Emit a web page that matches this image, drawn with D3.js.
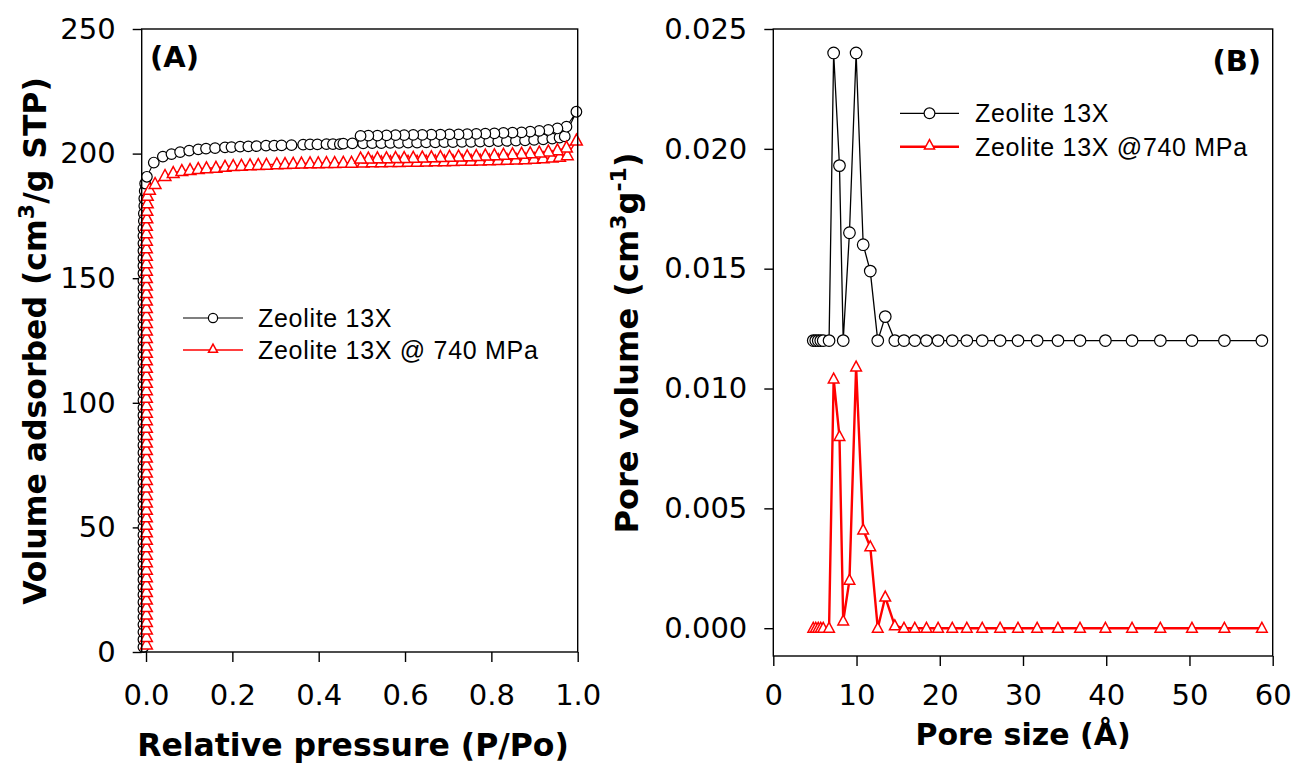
<!DOCTYPE html>
<html>
<head>
<meta charset="utf-8">
<script src="https://cdn.jsdelivr.net/npm/d3@7"></script>
<style>
  html, body { margin: 0; padding: 0; background: #fff; }
  svg { display: block; }
</style>
</head>
<body>
<svg id="chart" width="1297" height="763"></svg>
<script>
// ---------------- DATA ----------------
// Panel A: N2 isotherms (P/Po, volume adsorbed cm3/g STP)
const steepV_13X = [2, 5, 8, 11, 14, 17, 20, 23, 26, 29, 32, 35, 38, 41, 44, 47, 50, 53, 56, 59, 62, 65, 68, 71, 74, 77, 80, 83, 86, 89, 92, 95, 98, 101, 104, 107, 110, 113, 116, 119, 122, 125, 128, 131, 134, 137, 140, 143, 146, 149, 152, 155, 158, 161, 164, 167, 170, 173, 176, 179, 182, 185, 188];
const steepP_13X = [-0.006, -0.006, -0.006, -0.006, -0.006, -0.006, -0.006, -0.006, -0.006, -0.006, -0.006, -0.006, -0.006, -0.006, -0.006, -0.006, -0.006, -0.006, -0.006, -0.006, -0.006, -0.006, -0.006, -0.006, -0.006, -0.006, -0.006, -0.006, -0.006, -0.006, -0.006, -0.006, -0.006, -0.006, -0.006, -0.006, -0.006, -0.006, -0.006, -0.006, -0.006, -0.006, -0.006, -0.006, -0.006, -0.006, -0.006, -0.006, -0.006, -0.006, -0.006, -0.006, -0.006, -0.006, -0.006, -0.006, -0.006, -0.005, -0.005, -0.004, -0.004, -0.003, -0.002];
const adsP_13X = [0.002, 0.018, 0.039, 0.059, 0.079, 0.100, 0.121, 0.139, 0.160, 0.183, 0.198, 0.218, 0.237, 0.256, 0.278, 0.297, 0.314, 0.337, 0.364, 0.380, 0.397, 0.418, 0.433, 0.449, 0.457, 0.478, 0.503, 0.524, 0.545, 0.566, 0.586, 0.607, 0.628, 0.649, 0.670, 0.691, 0.711, 0.732, 0.753, 0.774, 0.795, 0.816, 0.836, 0.857, 0.878, 0.899, 0.920, 0.941, 0.958, 0.970, 0.997];
const adsV_13X = [190.7, 196.4, 198.8, 199.8, 200.6, 201.2, 201.7, 202.0, 202.2, 202.5, 202.6, 202.8, 202.9, 203.0, 203.2, 203.2, 203.3, 203.4, 203.6, 203.7, 203.7, 203.8, 203.8, 203.8, 204.0, 204.1, 204.1, 204.2, 204.2, 204.3, 204.3, 204.4, 204.4, 204.5, 204.5, 204.6, 204.6, 204.7, 204.7, 204.8, 204.9, 205.0, 205.1, 205.2, 205.3, 205.5, 205.7, 206.0, 206.4, 206.9, 216.8];
const desP_13X = [0.974, 0.953, 0.932, 0.911, 0.890, 0.870, 0.849, 0.828, 0.807, 0.786, 0.765, 0.744, 0.724, 0.703, 0.682, 0.661, 0.640, 0.619, 0.598, 0.578, 0.557, 0.536, 0.515, 0.497];
const desV_13X = [210.8, 210.1, 209.5, 209.1, 208.8, 208.5, 208.4, 208.3, 208.1, 208.0, 207.9, 207.8, 207.7, 207.7, 207.6, 207.6, 207.5, 207.5, 207.4, 207.4, 207.3, 207.2, 207.2, 207.1];

const steepV_740 = [3, 6, 9, 12, 15, 18, 21, 24, 27, 30, 33, 36, 39, 42, 45, 48, 51, 54, 57, 60, 63, 66, 69, 72, 75, 78, 81, 84, 87, 90, 93, 96, 99, 102, 105, 108, 111, 114, 117, 120, 123, 126, 129, 132, 135, 138, 141, 144, 147, 150, 153, 156, 159, 162, 165, 168, 171, 174, 177, 180, 183];
const steepP_740 = [0.001, 0.001, 0.001, 0.001, 0.001, 0.001, 0.001, 0.001, 0.001, 0.001, 0.001, 0.001, 0.001, 0.001, 0.001, 0.001, 0.001, 0.001, 0.001, 0.001, 0.001, 0.001, 0.001, 0.001, 0.001, 0.001, 0.001, 0.001, 0.001, 0.001, 0.001, 0.001, 0.001, 0.001, 0.001, 0.001, 0.001, 0.001, 0.001, 0.001, 0.001, 0.001, 0.001, 0.001, 0.001, 0.001, 0.001, 0.001, 0.001, 0.001, 0.001, 0.001, 0.001, 0.001, 0.001, 0.001, 0.001, 0.002, 0.002, 0.003, 0.003];
const adsP_740 = [0.008, 0.021, 0.044, 0.063, 0.083, 0.102, 0.121, 0.140, 0.162, 0.183, 0.202, 0.221, 0.241, 0.260, 0.279, 0.303, 0.322, 0.341, 0.360, 0.380, 0.399, 0.418, 0.437, 0.457, 0.476, 0.503, 0.524, 0.545, 0.566, 0.586, 0.607, 0.628, 0.649, 0.670, 0.691, 0.711, 0.732, 0.753, 0.774, 0.795, 0.816, 0.836, 0.857, 0.878, 0.899, 0.920, 0.941, 0.958, 0.976, 0.997];
const adsV_740 = [185.5, 187.8, 191.0, 192.2, 193.0, 193.4, 193.8, 194.1, 194.3, 194.7, 195.0, 195.1, 195.3, 195.4, 195.5, 195.7, 195.8, 195.9, 196.0, 196.1, 196.1, 196.2, 196.2, 196.3, 196.3, 196.4, 196.5, 196.5, 196.6, 196.6, 196.7, 196.7, 196.8, 196.9, 196.9, 197.0, 197.1, 197.1, 197.2, 197.3, 197.4, 197.5, 197.6, 197.7, 197.9, 198.1, 198.4, 198.7, 199.3, 205.2];
const desP_740 = [0.974, 0.953, 0.932, 0.911, 0.890, 0.870, 0.849, 0.828, 0.807, 0.786, 0.765, 0.744, 0.724, 0.703, 0.682, 0.661, 0.640, 0.619, 0.598, 0.578, 0.557, 0.536, 0.515, 0.497];
const desV_740 = [202.4, 201.3, 200.8, 200.4, 200.1, 199.9, 199.7, 199.5, 199.3, 199.2, 199.0, 198.9, 198.8, 198.7, 198.6, 198.5, 198.4, 198.3, 198.2, 198.2, 198.1, 198.1, 198.0, 198.0];

const ticksA_x = [0.0, 0.2, 0.4, 0.6, 0.8, 1.0];
const ticksA_y = [0, 50, 100, 150, 200, 250];

// Panel B: pore size distribution (Å, cm3/g)
const poreSize = [4.8, 5.1, 5.4, 5.7, 6.0, 6.7, 7.25, 7.95, 8.4, 9.15, 9.95, 10.8, 11.65, 12.55, 13.45, 14.6, 15.7, 17.0, 18.4, 19.8, 21.5, 23.25, 25.1, 27.25, 29.4, 31.7, 34.2, 36.85, 39.9, 43.1, 46.5, 50.3, 54.2, 58.7];
const pv_13X = [0.0120, 0.0120, 0.0120, 0.0120, 0.0120, 0.0120, 0.0240, 0.0193, 0.0120, 0.0165, 0.0240, 0.0160, 0.0149, 0.0120, 0.0130, 0.0120, 0.0120, 0.0120, 0.0120, 0.0120, 0.0120, 0.0120, 0.0120, 0.0120, 0.0120, 0.0120, 0.0120, 0.0120, 0.0120, 0.0120, 0.0120, 0.0120, 0.0120, 0.0120];
const pv_740 = [0.0000, 0.0000, 0.0000, 0.0000, 0.0000, 0.0000, 0.0104, 0.0080, 0.0003, 0.0020, 0.0109, 0.0041, 0.0034, 0.0000, 0.0013, 0.0001, 0.0000, 0.0000, 0.0000, 0.0000, 0.0000, 0.0000, 0.0000, 0.0000, 0.0000, 0.0000, 0.0000, 0.0000, 0.0000, 0.0000, 0.0000, 0.0000, 0.0000, 0.0000];

const ticksB_x = [0, 10, 20, 30, 40, 50, 60];
const ticksB_y = [0.000, 0.005, 0.010, 0.015, 0.020, 0.025];

const seriesNames = ["Zeolite 13X", "Zeolite 13X @ 740 MPa"];
const seriesNamesB = ["Zeolite 13X", "Zeolite 13X @740 MPa"];
const seriesColors = ["#000000", "#ff0000"];

// ---------------- DRAW ----------------
const svg = d3.select("#chart");
const tickFont = "'DejaVu Sans', Verdana, sans-serif";
const legendFont = "'Liberation Sans', Arial, sans-serif";

const triPath = s => `M0,${-s * 0.62}L${s * 0.56},${s * 0.42}L${-s * 0.56},${s * 0.42}Z`;

function zip(xs, ys) { return xs.map((x, i) => [x, ys[i]]); }

function styleAxis(g) {
  g.selectAll(".domain").remove();
  g.selectAll(".tick line").attr("stroke", "#000").attr("stroke-width", 1.4);
  g.selectAll(".tick text").attr("font-family", tickFont).attr("font-size", 29).attr("fill", "#000");
}

// ===== Panel A =====
const xA = d3.scaleLinear().domain([-0.01, 1.0]).range([141.7, 577.7]);
const yA = d3.scaleLinear().domain([0, 250]).range([652, 29]);

const gA = svg.append("g");
gA.append("g").attr("transform", "translate(0,652)")
  .call(d3.axisBottom(xA).tickValues(ticksA_x).tickFormat(d3.format(".1f")).tickSize(10).tickPadding(22))
  .call(styleAxis);
gA.append("g").attr("transform", "translate(141.7,0)")
  .call(d3.axisLeft(yA).tickValues(ticksA_y).tickFormat(d3.format("d")).tickSize(9).tickPadding(17))
  .call(styleAxis);

const lineA = d3.line().x(d => xA(d[0])).y(d => yA(d[1]));

const blackA = zip(steepP_13X, steepV_13X).concat(zip(adsP_13X, adsV_13X), zip(desP_13X, desV_13X));
const redA = zip(steepP_740, steepV_740).concat(zip(adsP_740, adsV_740), zip(desP_740, desV_740));

gA.append("path").datum(blackA).attr("d", lineA).attr("fill", "none").attr("stroke", "#000").attr("stroke-width", 1.1);
gA.selectAll("circle.a13").data(blackA).join("circle").attr("class", "a13")
  .attr("cx", d => xA(d[0])).attr("cy", d => yA(d[1])).attr("r", 5.3)
  .attr("fill", "#fff").attr("stroke", "#000").attr("stroke-width", 1.2);

gA.append("path").datum(redA).attr("d", lineA).attr("fill", "none").attr("stroke", "#ff0000").attr("stroke-width", 1.4);
gA.selectAll("path.a740").data(redA).join("path").attr("class", "a740")
  .attr("transform", d => `translate(${xA(d[0])},${yA(d[1])})`).attr("d", triPath(10.5))
  .attr("fill", "#fff").attr("stroke", "#ff0000").attr("stroke-width", 1.5);

gA.append("rect").attr("x", 141.7).attr("y", 29).attr("width", 577.7 - 141.7).attr("height", 652 - 29)
  .attr("fill", "none").attr("stroke", "#000").attr("stroke-width", 1.4);

gA.append("text").attr("x", 150).attr("y", 67).attr("font-family", tickFont).attr("font-weight", "bold")
  .attr("font-size", 29).text("(A)");

// Legend A
const legA = gA.append("g");
[0, 1].forEach(i => {
  const y = 318 + i * 32;
  legA.append("line").attr("x1", 183).attr("x2", 243).attr("y1", y).attr("y2", y)
    .attr("stroke", seriesColors[i]).attr("stroke-width", i ? 1.6 : 1.2);
  if (i === 0) legA.append("circle").attr("cx", 213).attr("cy", y).attr("r", 4.6)
    .attr("fill", "#fff").attr("stroke", "#000").attr("stroke-width", 1.2);
  else legA.append("path").attr("transform", `translate(213,${y - 1})`).attr("d", triPath(8))
    .attr("fill", "#fff").attr("stroke", "#ff0000").attr("stroke-width", 1.5);
  legA.append("text").attr("x", 258).attr("y", y + 9).attr("font-family", legendFont)
    .attr("font-size", 25).attr("letter-spacing", 0.7).attr("fill", "#000").text(seriesNames[i]);
});

// Axis titles A
gA.append("text").attr("x", 353).attr("y", 756).attr("text-anchor", "middle")
  .attr("font-family", tickFont).attr("font-weight", "bold").attr("font-size", 31.5).text("Relative pressure (P/Po)");
const ytA = gA.append("text").attr("transform", "translate(46,341) rotate(-90)").attr("text-anchor", "middle")
  .attr("font-family", tickFont).attr("font-weight", "bold").attr("font-size", 31.5);
ytA.append("tspan").text("Volume adsorbed (cm");
ytA.append("tspan").attr("dy", -12).attr("font-size", 22).text("3");
ytA.append("tspan").attr("dy", 12).text("/g STP)");

// ===== Panel B =====
const xB = d3.scaleLinear().domain([0, 60]).range([773.3, 1272.7]);
const yB = d3.scaleLinear().domain([-0.00116, 0.025]).range([656, 29]);

const gB = svg.append("g");
gB.append("g").attr("transform", "translate(0,656)")
  .call(d3.axisBottom(xB).tickValues(ticksB_x).tickFormat(d3.format("d")).tickSize(10).tickPadding(18))
  .call(styleAxis);
gB.append("g").attr("transform", "translate(773.3,0)")
  .call(d3.axisLeft(yB).tickValues(ticksB_y).tickFormat(d3.format(".3f")).tickSize(9).tickPadding(17))
  .call(styleAxis);

const lineB = d3.line().x(d => xB(d[0])).y(d => yB(d[1]));
const blackB = zip(poreSize, pv_13X);
const redB = zip(poreSize, pv_740);

gB.append("path").datum(blackB).attr("d", lineB).attr("fill", "none").attr("stroke", "#000").attr("stroke-width", 1.3);
gB.selectAll("circle.b13").data(blackB).join("circle").attr("class", "b13")
  .attr("cx", d => xB(d[0])).attr("cy", d => yB(d[1])).attr("r", 5.8)
  .attr("fill", "#fff").attr("stroke", "#000").attr("stroke-width", 1.2);

gB.append("path").datum(redB).attr("d", lineB).attr("fill", "none").attr("stroke", "#ff0000").attr("stroke-width", 2.4);
gB.selectAll("path.b740").data(redB).join("path").attr("class", "b740")
  .attr("transform", d => `translate(${xB(d[0])},${yB(d[1])})`).attr("d", triPath(9.5))
  .attr("fill", "#fff").attr("stroke", "#ff0000").attr("stroke-width", 1.5);

gB.append("rect").attr("x", 773.3).attr("y", 29).attr("width", 1272.7 - 773.3).attr("height", 656 - 29)
  .attr("fill", "none").attr("stroke", "#000").attr("stroke-width", 1.4);

gB.append("text").attr("x", 1261).attr("y", 71).attr("text-anchor", "end").attr("font-family", tickFont)
  .attr("font-weight", "bold").attr("font-size", 29).text("(B)");

// Legend B
const legB = gB.append("g");
[0, 1].forEach(i => {
  const y = 113.3 + i * 33.4;
  legB.append("line").attr("x1", 900).attr("x2", 959).attr("y1", y).attr("y2", y)
    .attr("stroke", seriesColors[i]).attr("stroke-width", i ? 2.6 : 1.3);
  if (i === 0) legB.append("circle").attr("cx", 929.5).attr("cy", y).attr("r", 5.4)
    .attr("fill", "#fff").attr("stroke", "#000").attr("stroke-width", 1.2);
  else legB.append("path").attr("transform", `translate(929.5,${y - 1.5})`).attr("d", triPath(9))
    .attr("fill", "#fff").attr("stroke", "#ff0000").attr("stroke-width", 1.5);
  legB.append("text").attr("x", 975).attr("y", y + 9).attr("font-family", legendFont)
    .attr("font-size", 25).attr("letter-spacing", 0.7).attr("fill", "#000").text(seriesNamesB[i]);
});

// Axis titles B
gB.append("text").attr("x", 1023).attr("y", 745).attr("text-anchor", "middle")
  .attr("font-family", tickFont).attr("font-weight", "bold").attr("font-size", 30).text("Pore size (Å)");
const ytB = gB.append("text").attr("transform", "translate(638,343) rotate(-90)").attr("text-anchor", "middle")
  .attr("font-family", tickFont).attr("font-weight", "bold").attr("font-size", 32);
ytB.append("tspan").text("Pore volume (cm");
ytB.append("tspan").attr("dy", -12).attr("font-size", 22).text("3");
ytB.append("tspan").attr("dy", 12).text("g");
ytB.append("tspan").attr("dy", -12).attr("font-size", 22).text("-1");
ytB.append("tspan").attr("dy", 12).text(")");
</script>
</body>
</html>
